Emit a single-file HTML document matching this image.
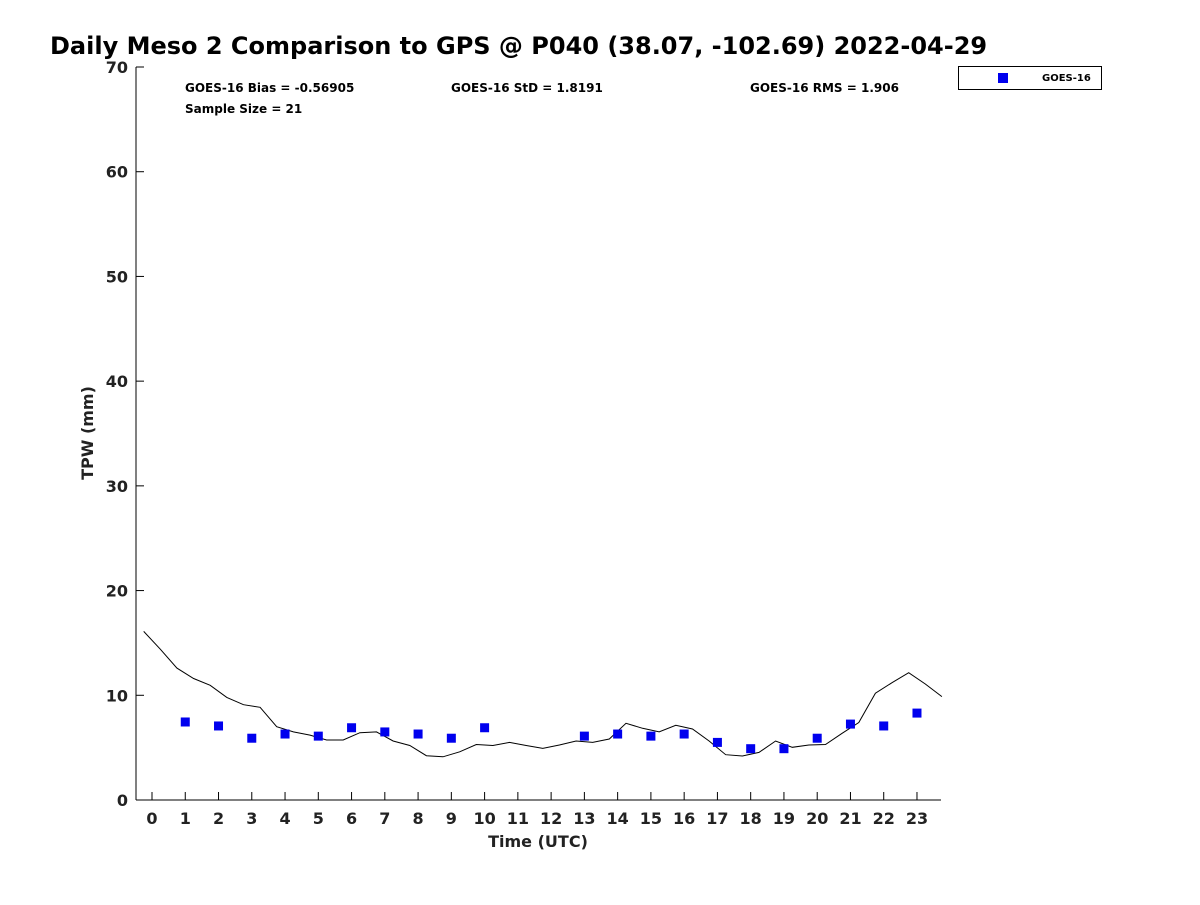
<!DOCTYPE html>
<html><head><meta charset="utf-8"><style>
body{margin:0;background:#fff;font-family:"Liberation Sans","DejaVu Sans",sans-serif}
</style></head><body>
<svg width="1200" height="900" xmlns="http://www.w3.org/2000/svg" font-family="DejaVu Sans, Liberation Sans, sans-serif">
<rect width="1200" height="900" fill="#fff"/>
<text x="50" y="54" font-size="24" font-weight="bold" fill="#000">Daily Meso 2 Comparison to GPS @ P040 (38.07, -102.69) 2022-04-29</text>
<g id="axes"></g>
<g id="marks"></g>
<text x="185" y="92" font-size="12" font-weight="bold">GOES-16 Bias = -0.56905</text>
<text x="451" y="92" font-size="12" font-weight="bold">GOES-16 StD = 1.8191</text>
<text x="750" y="92" font-size="12" font-weight="bold">GOES-16 RMS = 1.906</text>
<text x="185" y="113" font-size="12" font-weight="bold">Sample Size = 21</text>
<g>
<rect x="958.5" y="66.5" width="143" height="23" fill="#fff" stroke="#000" stroke-width="1"/>
<rect x="998" y="73" width="10" height="10" fill="#0000ee"/>
<text x="1042" y="81" font-size="10" font-weight="bold">GOES-16</text>
</g>
<text transform="translate(93,433) rotate(-90)" text-anchor="middle" font-size="16" font-weight="bold" fill="#222">TPW (mm)</text>
<text x="538" y="847" text-anchor="middle" font-size="16" font-weight="bold" fill="#222">Time (UTC)</text>
</svg>
<script>
const gpsHours = [-0.25,0.25,0.75,1.25,1.75,2.25,2.75,3.25,3.75,4.25,4.75,5.25,5.75,6.25,6.75,7.25,7.75,8.25,8.75,9.25,9.75,10.25,10.75,11.25,11.75,12.25,12.75,13.25,13.75,14.25,14.75,15.25,15.75,16.25,16.75,17.25,17.75,18.25,18.75,19.25,19.75,20.25,20.75,21.25,21.75,22.25,22.75,23.25,23.75];
const gpsValues = [16.1,14.4,12.6,11.6,10.95,9.8,9.1,8.85,7.0,6.5,6.2,5.73,5.73,6.43,6.5,5.63,5.2,4.23,4.13,4.6,5.3,5.2,5.5,5.2,4.93,5.25,5.63,5.5,5.83,7.32,6.85,6.5,7.13,6.78,5.63,4.33,4.2,4.55,5.63,5.03,5.25,5.3,6.37,7.4,10.2,11.2,12.16,11.08,9.87];
const goesHours = [1,2,3,4,5,6,7,8,9,10,13,14,15,16,17,18,19,20,21,22,23];
const goesValues = [7.45,7.07,5.9,6.3,6.1,6.9,6.5,6.3,5.9,6.9,6.1,6.3,6.1,6.3,5.5,4.9,4.9,5.9,7.25,7.07,8.3];
const xTicks = [0,1,2,3,4,5,6,7,8,9,10,11,12,13,14,15,16,17,18,19,20,21,22,23];
const yTicks = [0,10,20,30,40,50,60,70];

const NS="http://www.w3.org/2000/svg";
const L=136,R=941,T=67,B=800;
const x=h=>152+(h)*33.26;
const y=v=>B-(v/70)*(B-T);
function mk(t,a,p){const e=document.createElementNS(NS,t);for(const k in a)e.setAttribute(k,a[k]);p.appendChild(e);return e;}
const ax=document.getElementById('axes'), mg=document.getElementById('marks');
let e=mk('line',{x1:L,y1:T,x2:L,y2:B,stroke:'#000','stroke-width':1},ax);


e=mk('line',{x1:L,y1:B,x2:R,y2:B,stroke:'#000','stroke-width':1},ax);


yTicks.forEach(v=>{
  const t=mk('line',{x1:L,y1:y(v),x2:L+8,y2:y(v),stroke:'#000'},ax);
  
  
  const l=mk('text',{x:L-8,y:y(v)+6,'text-anchor':'end','font-size':16,'font-weight':'bold',fill:'#222'},ax);
  l.textContent=v;
  
  
});
xTicks.forEach(h=>{
  const t=mk('line',{x1:x(h),y1:B,x2:x(h),y2:B-8,stroke:'#000'},ax);
  
  
  const l=mk('text',{x:x(h),y:B+24,'text-anchor':'middle','font-size':16,'font-weight':'bold',fill:'#222'},ax);
  l.textContent=h;
  
  
});
const pts=gpsHours.map((h,i)=>x(h).toFixed(1)+','+y(gpsValues[i]).toFixed(1)).join(' ');
const pl=mk('polyline',{points:pts,fill:'none',stroke:'#000','stroke-width':1},mg);


goesHours.forEach((h,i)=>{
  const r=mk('rect',{x:x(h)-4.5,y:y(goesValues[i])-4.5,width:9,height:9,fill:'#0000ee'},mg);
  
  
});
</script>
</body></html>
